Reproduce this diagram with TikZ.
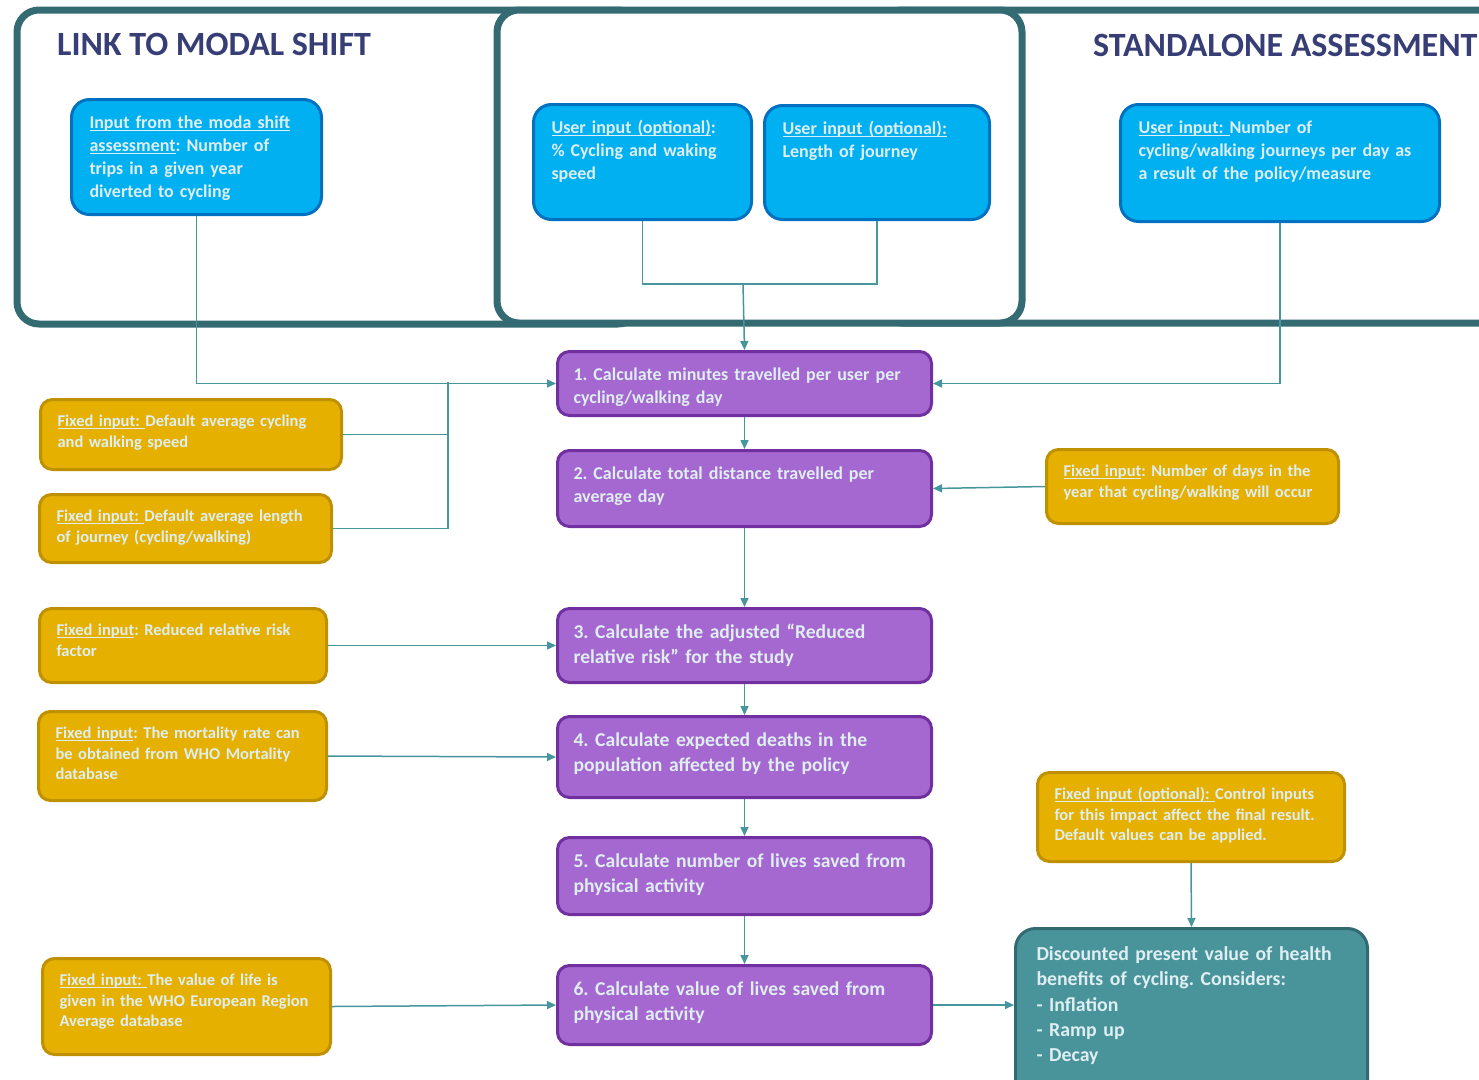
\documentclass[tikz,border=0pt]{standalone}
\usepackage{fontspec}
\setmainfont{Carlito}
\usetikzlibrary{arrows.meta}

\definecolor{frameteal}{RGB}{52,106,114}
\definecolor{titlenavy}{RGB}{55,61,117}
\definecolor{userfill}{RGB}{0,176,240}
\definecolor{userdraw}{RGB}{0,112,192}
\definecolor{calcfill}{RGB}{165,103,208}
\definecolor{calcdraw}{RGB}{112,48,160}
\definecolor{fixedfill}{RGB}{229,176,0}
\definecolor{fixeddraw}{RGB}{191,144,0}
\definecolor{resultfill}{RGB}{72,148,154}
\definecolor{resultdraw}{RGB}{49,106,112}
\definecolor{linkteal}{RGB}{70,150,158}
\definecolor{pale}{RGB}{222,238,242}

\frenchspacing
\newsavebox{\undlbox}
\newcommand{\undl}[1]{\sbox{\undlbox}{#1}\mbox{\usebox{\undlbox}\llap{\rule[-2.5pt]{\wd\undlbox}{1pt}}}}

\begin{document}
\begin{tikzpicture}[x=1pt,y=-1pt,>={Triangle[length=9pt,width=8pt]}]
  \tikzstyle{frame}=[draw=frameteal,line width=7pt,rounded corners=22pt]
  \tikzstyle{title}=[text=titlenavy,font=\fontsize{34}{40}\selectfont\bfseries,anchor=base west,inner sep=0pt]
  \tikzstyle{box}=[anchor=north west,align=left,line width=3pt,text=pale]
  \tikzstyle{userin}=[box,fill=userfill,draw=userdraw,rounded corners=18pt,font=\fontsize{18}{23}\selectfont\bfseries,inner xsep=18pt,inner ysep=15.5pt,text height=13.5pt]
  \tikzstyle{calc}=[box,fill=calcfill,draw=calcdraw,rounded corners=12pt,font=\fontsize{19.6}{25}\selectfont\bfseries,inner xsep=16pt,inner ysep=15.3pt,text height=14.7pt,text width=342pt]
  \tikzstyle{calcsmall}=[calc,font=\fontsize{18}{23}\selectfont\bfseries,inner ysep=15.5pt,text height=13.5pt]
  \tikzstyle{fixed}=[box,fill=fixedfill,draw=fixeddraw,rounded corners=12pt,font=\fontsize{16.5}{20.5}\selectfont\bfseries,inner xsep=17pt,inner ysep=14.6pt,text height=12.4pt]
  \tikzstyle{result}=[box,fill=resultfill,draw=resultdraw,rounded corners=20pt,font=\fontsize{19.8}{25.3}\selectfont\bfseries,inner xsep=21pt,inner ysep=17.1pt,text height=14.9pt]
  \tikzstyle{link}=[draw=linkteal,line width=1.5pt]

  \useasboundingbox (0,0) rectangle (1479,1079);

  \draw[frame] (17,10) rectangle (640,324);
  \draw[frame] (880,10) rectangle (1510,323);
  \draw[frame,fill=white] (497,10) rectangle (1022,323);

  \node[title] (modaltitle) at (57,55) {LINK TO MODAL SHIFT};
  \node[title] (alonetitle) at (1093,56) {STANDALONE ASSESSMENT};

  \node[userin,text width=214pt,text depth=70.5pt] (modal) at (70,98)
    {\undl{Input from the moda shift}\\\undl{assessment}: Number of\\trips in a given year\\diverted to cycling};
  \node[userin,text width=182pt,text depth=70.5pt] (speed) at (532,103)
    {\undl{User input (optional)}:\\\% Cycling and waking\\speed};
  \node[userin,text width=189pt,text depth=69.5pt] (len) at (763,104)
    {\undl{User input (optional):}\\Length of journey};
  \node[userin,text width=283pt,text depth=72.5pt] (trips) at (1119,103)
    {\undl{User input: }Number of\\cycling/walking journeys per day as\\a result of the policy/measure};

  \node[calcsmall,text depth=19.5pt] (calc1) at (556,350)
    {1. Calculate minutes travelled per user per\\cycling/walking day};
  \node[calcsmall,text depth=31.5pt] (calc2) at (556,449)
    {2. Calculate total distance travelled per\\average day};
  \node[calc,text depth=28.7pt] (calc3) at (556,607)
    {3. Calculate the adjusted “Reduced\\relative risk” for the study};
  \node[calc,text depth=35.7pt] (calc4) at (556,715)
    {4. Calculate expected deaths in the\\population affected by the policy};
  \node[calc,text depth=31.7pt] (calc5) at (556,836)
    {5. Calculate number of lives saved from\\physical activity};
  \node[calc,text depth=33.7pt] (calc6) at (556,964)
    {6. Calculate value of lives saved from\\physical activity};

  \node[fixed,text width=267pt,text depth=28.4pt] (fspeed) at (39,398)
    {\undl{Fixed input: }Default average cycling\\and walking speed};
  \node[fixed,text width=258pt,text depth=26.4pt] (flen) at (38,493)
    {\undl{Fixed input: }Default average length\\of journey (cycling/walking)};
  \node[fixed,text width=258pt,text depth=32.4pt] (fdays) at (1045,448)
    {\undl{Fixed input}: Number of days in the\\year that cycling/walking will occur};
  \node[fixed,text width=253pt,text depth=32.4pt] (frisk) at (38,607)
    {\undl{Fixed input}: Reduced relative risk\\factor};
  \node[fixed,text width=254pt,text depth=47.4pt] (fmort) at (37,710)
    {\undl{Fixed input}: The mortality rate can\\be obtained from WHO Mortality\\database};
  \node[fixed,text width=254pt,text depth=54.4pt] (flife) at (41,957)
    {\undl{Fixed input: }The value of life is\\given in the WHO European Region\\Average database};
  \node[fixed,text width=273pt,text depth=47.4pt] (fctrl) at (1036,771)
    {\undl{Fixed input (optional): }Control inputs\\for this impact affect the final result.\\Default values can be applied.};

  \node[result,text width=310pt,text depth=123.9pt] (value) at (1014,927)
    {Discounted present value of health\\benefits of cycling. Considers:\\- Inflation\\- Ramp up\\- Decay};

  \coordinate (jn) at (448,382);
  \coordinate (merge) at (743,284);

  \draw[link,->] (modal.south) |- (calc1.west);
  \draw[link] (fspeed.east) -- (fspeed.east -| jn);
  \draw[link] (flen.east) -| (jn);
  \draw[link] (speed.south) |- (merge) -| (len.south);
  \draw[link,->] (merge) -- (calc1.north);
  \draw[link,->] (trips.south) |- (calc1.east);
  \draw[link,->] (fdays.west) -- (calc2.east);
  \foreach \a/\b in {calc1/calc2,calc2/calc3,calc3/calc4,calc4/calc5,calc5/calc6}
    \draw[link,->] (\a) -- (\b);
  \draw[link,->] (frisk.east) -- (calc3.west);
  \draw[link,->] (fmort.east) -- (calc4.west);
  \draw[link,->] (flife.east) -- (calc6.west);
  \draw[link,->] (fctrl.south) -- (value.north);
  \draw[link,->] (calc6.east) -- (calc6.east -| value.west);
\end{tikzpicture}
\end{document}
